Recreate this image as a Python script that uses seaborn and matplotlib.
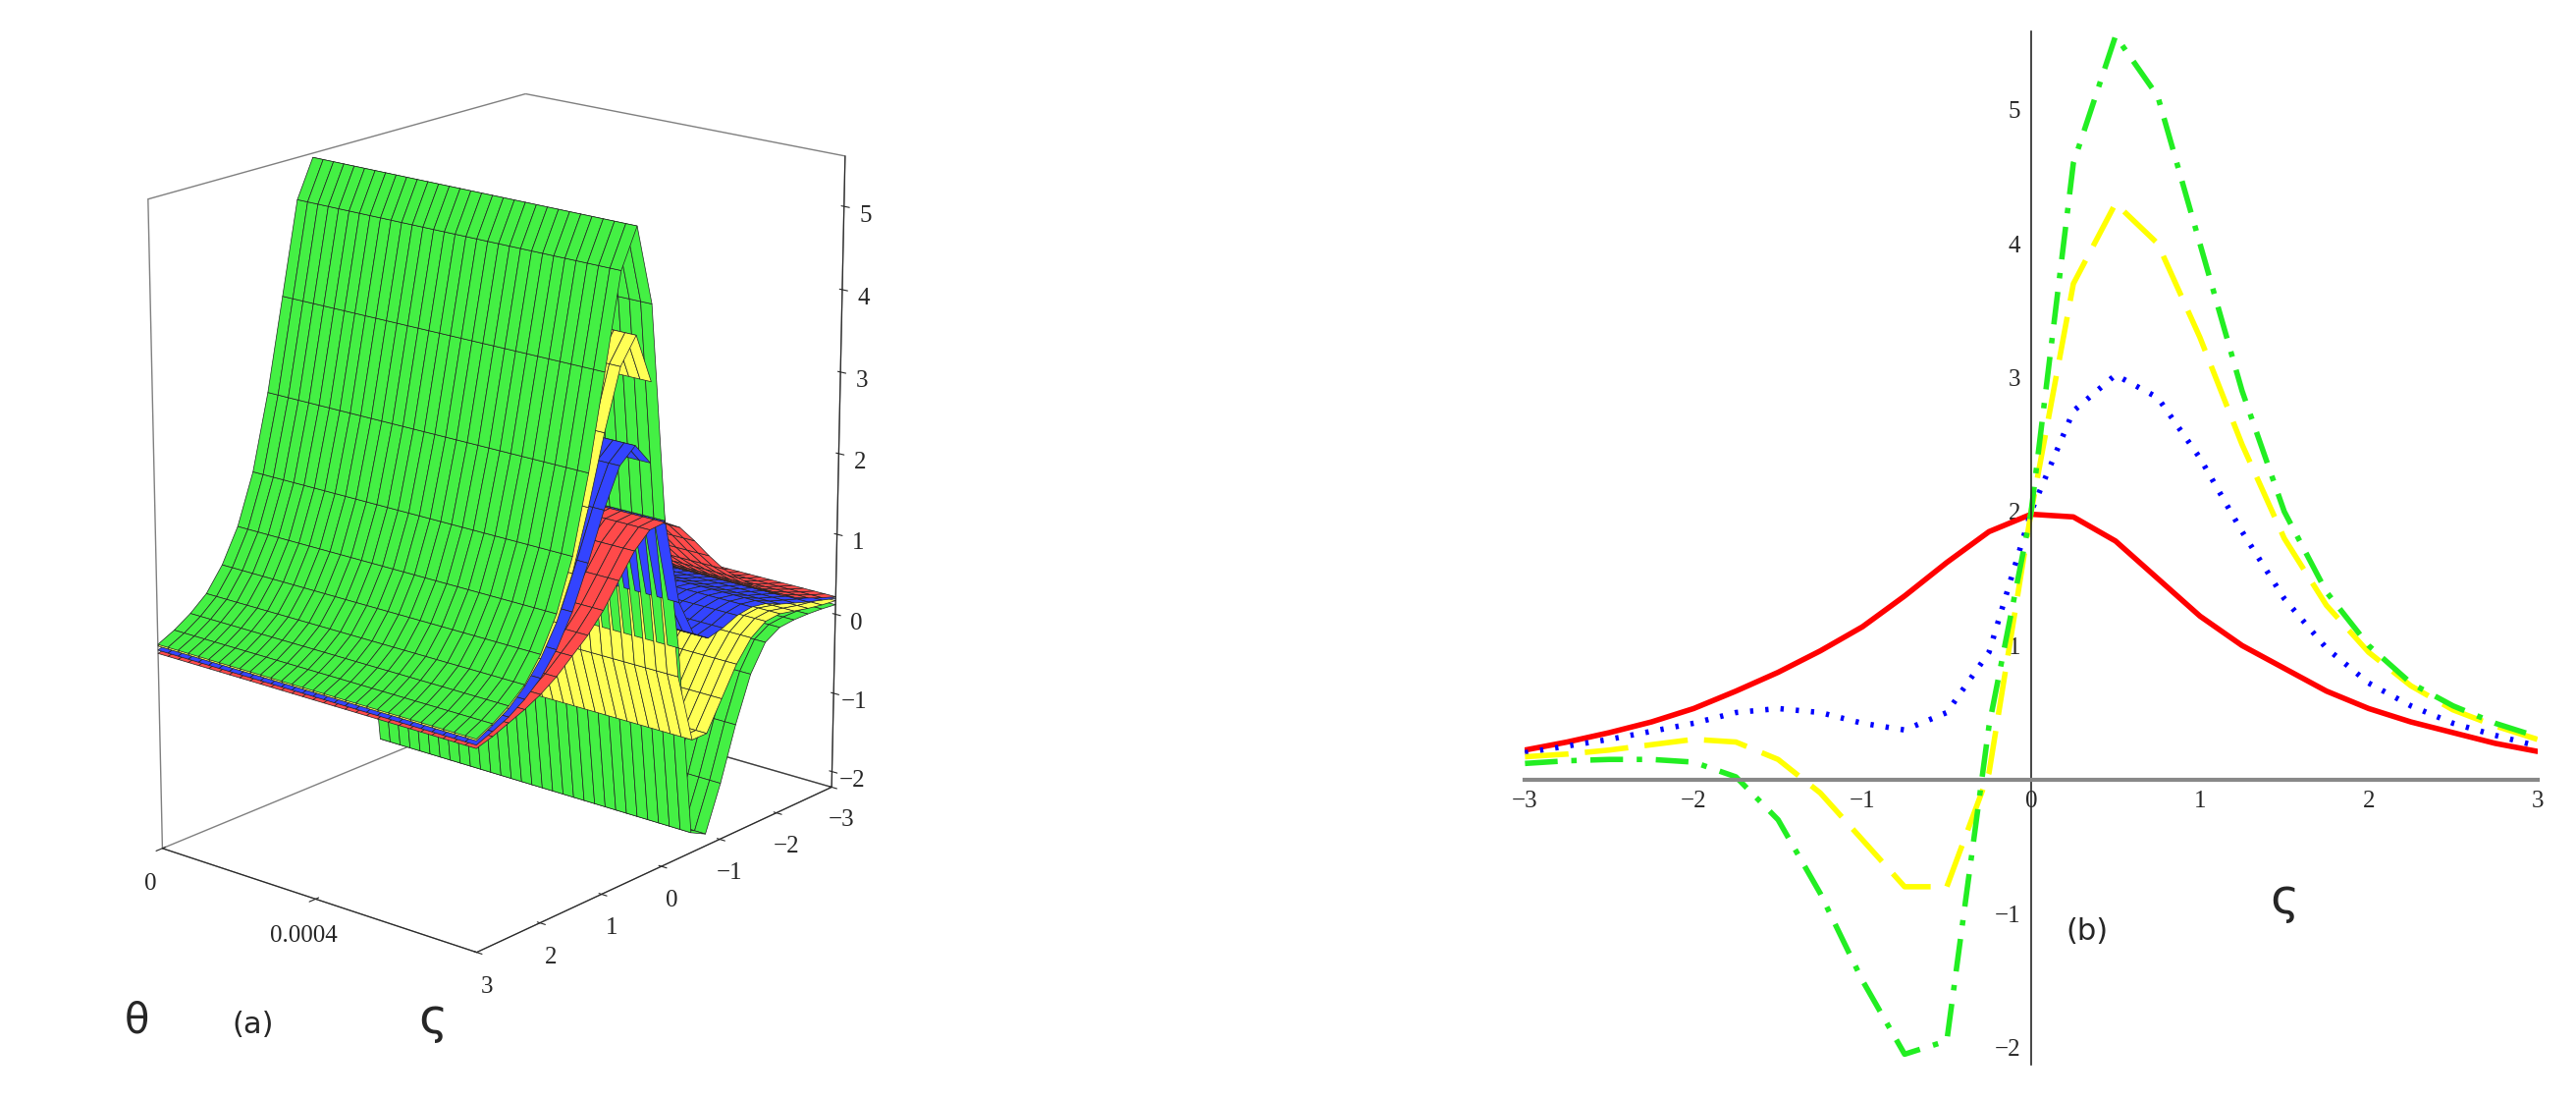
import numpy as np
import pandas as pd
import matplotlib
matplotlib.use("Agg")
import matplotlib.pyplot as plt
import seaborn as sns
from mpl_toolkits.mplot3d.art3d import Poly3DCollection

sns.set_style("white")
plt.rcParams['font.family'] = ['Liberation Serif', 'DejaVu Sans']

zeta = [-3, -2.75, -2.5, -2.25, -2, -1.75, -1.5, -1.25, -1, -0.75, -0.5, -0.25,
        0, 0.25, 0.5, 0.75, 1, 1.25, 1.5, 1.75, 2, 2.25, 2.5, 2.75, 3]
red = [0.22, 0.28, 0.35, 0.43, 0.53, 0.66, 0.80, 0.96, 1.14, 1.37, 1.62, 1.85,
       1.98, 1.96, 1.78, 1.50, 1.22, 1.00, 0.83, 0.66, 0.53, 0.43, 0.35, 0.27, 0.21]
blue = [0.20, 0.25, 0.30, 0.36, 0.42, 0.50, 0.53, 0.50, 0.42, 0.37, 0.50, 0.95,
        2.00, 2.75, 3.02, 2.85, 2.40, 1.85, 1.35, 0.98, 0.72, 0.55, 0.42, 0.33, 0.25]
yellow = [0.17, 0.19, 0.22, 0.26, 0.30, 0.28, 0.15, -0.10, -0.45, -0.80, -0.80, 0.05,
          2.00, 3.70, 4.30, 4.00, 3.30, 2.50, 1.80, 1.30, 0.95, 0.70, 0.52, 0.40, 0.30]
green = [0.12, 0.14, 0.15, 0.15, 0.13, 0.02, -0.30, -0.85, -1.50, -2.05, -1.95, 0.40,
         2.00, 4.60, 5.55, 5.10, 4.00, 2.90, 2.00, 1.40, 1.00, 0.72, 0.55, 0.42, 0.32]
theta = [0.0, 0.0008]
theta_ticks = [0, 0.0004]
z_ticks = [-2, -1, 0, 1, 2, 3, 4, 5]
zeta_ticks = [-3, -2, -1, 0, 1, 2, 3]

fig = plt.figure(figsize=(26.24, 11.19), dpi=100)

# ---------- (a) 3D surfaces ----------
ax3 = fig.add_axes([-0.01, 0.1, 0.40, 0.86], projection='3d')
T_ = np.linspace(theta[0], theta[1], 31)
polys, cols = [], []
for vals, col in [(green, '#44f044'), (yellow, '#ffff55'),
                  (blue, '#3344ff'), (red, '#ff4a4a')]:
    for j in range(len(zeta) - 1):
        for i in range(len(T_) - 1):
            polys.append([(T_[i], zeta[j], vals[j]), (T_[i + 1], zeta[j], vals[j]),
                          (T_[i + 1], zeta[j + 1], vals[j + 1]), (T_[i], zeta[j + 1], vals[j + 1])])
            cols.append(col)
pc = Poly3DCollection(polys, facecolors=cols, edgecolors='#222222', linewidths=0.5)
ax3.add_collection3d(pc)
ax3.set_xlim(theta[0], theta[1])
ax3.set_ylim(3, -3)
ax3.set_zlim(-2.2, 5.6)
ax3.set_yticks(zeta_ticks)
ax3.set_xticks(theta_ticks)
ax3.set_xticklabels(['0', '0.0004'])
ax3.set_zticks(z_ticks)
ax3.tick_params(labelsize=18)
ax3.set_box_aspect((0.8, 1.1, 1.3))
ax3.view_init(elev=18, azim=-50)
for a in (ax3.xaxis, ax3.yaxis, ax3.zaxis):
    a.pane.fill = False
    a.pane.set_edgecolor('black')
    a._axinfo['grid']['color'] = (1, 1, 1, 0)
ax3.grid(False)
fig.text(0.053, 0.06, 'θ', fontsize=30, ha='center', family=['DejaVu Sans'])
fig.text(0.098, 0.06, '(a)', fontsize=22, ha='center', family=['DejaVu Sans'])
fig.text(0.168, 0.06, 'ς', fontsize=36, ha='center', family=['DejaVu Sans'])

# ---------- (b) 2D curves ----------
ax = fig.add_axes([0.592, 0.031, 0.393, 0.94])
df = pd.DataFrame({'zeta': zeta, 'red': red, 'blue': blue, 'yellow': yellow, 'green': green})
sns.lineplot(data=df, x='zeta', y='red', ax=ax, color='#ff0000', lw=4)
sns.lineplot(data=df, x='zeta', y='blue', ax=ax, color='#0000ff', lw=4)
ax.lines[-1].set_linestyle((0, (0.6, 2.2)))
sns.lineplot(data=df, x='zeta', y='yellow', ax=ax, color='#ffff00', lw=4)
ax.lines[-1].set_linestyle((0, (8, 3)))
sns.lineplot(data=df, x='zeta', y='green', ax=ax, color='#22ee22', lw=4)
ax.lines[-1].set_linestyle((0, (6, 2.5, 1, 2.5)))
ax.set_xlim(-3, 3)
ax.set_ylim(-2.13, 5.58)
ax.set_xlabel('')
ax.set_ylabel('')
ax.spines['left'].set_position(('data', 0))
ax.spines['bottom'].set_position(('data', 0))
ax.spines['right'].set_visible(False)
ax.spines['top'].set_visible(False)
ax.spines['bottom'].set_color('#888888')
ax.spines['bottom'].set_linewidth(3)
ax.spines['left'].set_linewidth(1.2)
ax.set_xticks(zeta_ticks)
ax.set_yticks([-2, -1, 1, 2, 3, 4, 5])
ax.tick_params(labelsize=18, length=0, pad=8)
ax.text(1.5, -1.0, 'ς', fontsize=36, ha='center', family=['DejaVu Sans'])
ax.text(0.33, -1.2, '(b)', fontsize=22, ha='center', family=['DejaVu Sans'])

fig.savefig('out.png', dpi=100)
